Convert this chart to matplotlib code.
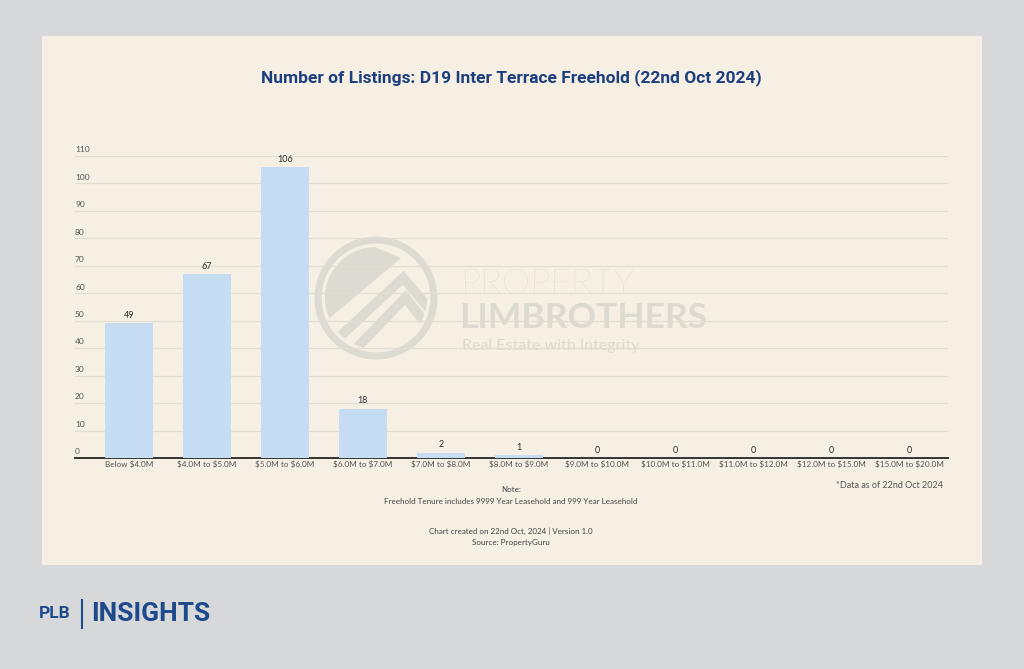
import matplotlib
matplotlib.use("Agg")
import matplotlib.pyplot as plt
from matplotlib.patches import Rectangle, Circle, Polygon
import numpy as np

plt.rcParams["text.parse_math"] = False

categories = ["Below $4.0M", "$4.0M to $5.0M", "$5.0M to $6.0M", "$6.0M to $7.0M",
              "$7.0M to $8.0M", "$8.0M to $9.0M", "$9.0M to $10.0M", "$10.0M to $11.0M",
              "$11.0M to $12.0M", "$12.0M to $15.0M", "$15.0M to $20.0M"]
listings = [49, 67, 106, 18, 2, 1, 0, 0, 0, 0, 0]
y_ticks = [0, 10, 20, 30, 40, 50, 60, 70, 80, 90, 100, 110]

title = "Number of Listings: D19 Inter Terrace Freehold (22nd Oct 2024)"

W, H = 1024, 669
fig = plt.figure(figsize=(W / 100, H / 100), dpi=100)
fig.patch.set_facecolor("#d6d8da")

def fx(px):
    return px / W

def fy(py):
    return 1 - py / H

# card
fig.add_artist(Rectangle((fx(42), fy(565)), fx(982) - fx(42), fy(36) - fy(565),
                         transform=fig.transFigure, facecolor="#f5efe4", edgecolor="none", zorder=0))

ax = fig.add_axes([fx(75), fy(458), fx(948) - fx(75), fy(156) - fy(458)])
ax.set_facecolor("none")
ax.set_zorder(2)

# watermark (overlay axes in pixel coords behind main axes)
wm = fig.add_axes([0, 0, 1, 1])
wm.set_xlim(0, W)
wm.set_ylim(H, 0)
wm.axis("off")
wm.set_zorder(1)
wmc = "#dddad2"
cx, cy, r = 376, 298, 58
wm.add_patch(Circle((cx, cy), r, fill=False, edgecolor=wmc, linewidth=5))
clip = Circle((cx, cy), r - 7, transform=wm.transData)
fill_poly = Polygon([(cx - 70, cy + 40), (cx + 25, cy - 40), (cx - 70, cy - 80)],
                    closed=True, facecolor=wmc, edgecolor="none")
wm.add_patch(fill_poly)
fill_poly.set_clip_path(clip)
for off in (22, 44):
    ln, = wm.plot([cx - 70 + off * 0.4, cx + 25 + off * 0.1, cx + 80],
                  [cy + 40 + off, cy - 40 + off * 0.9, cy + 20 + off],
                  color=wmc, linewidth=7, solid_joinstyle="miter")
    ln.set_clip_path(clip)
wm.text(461, 284, "PROPERTY", fontsize=26, color=wmc, family="Lato", fontweight="light",
        ha="left", va="center")
wm.text(459, 318, "LIMBROTHERS", fontsize=25.5, color=wmc, family="Lato", fontweight="bold",
        ha="left", va="center")
wm.text(462, 346, "Real Estate with Integrity", fontsize=11.5, color=wmc, family="Lato",
        ha="left", va="center")

x = np.arange(len(categories))
ax.bar(x, listings, width=0.62, color="#c6dcf3", zorder=3)
for xi, v in zip(x, listings):
    ax.text(xi, v + 1.2, str(v), ha="center", va="bottom", fontsize=6.5,
            color="#333333", family="Lato", zorder=4)

ax.set_xlim(-0.69, 10.5)
ax.set_ylim(0, 110)
ax.set_yticks(y_ticks)
ax.set_yticklabels([])
ax.tick_params(axis="y", length=0)
for t in y_ticks:
    ax.text(0.0, t + 1.0, str(t), transform=ax.get_yaxis_transform(), ha="left",
            va="bottom", fontsize=6, color="#555555", family="Lato")
ax.grid(axis="y", color="#e2ddd1", linewidth=0.9, zorder=0)
ax.set_xticks(x)
ax.set_xticklabels(categories, fontsize=5.9, color="#555555", family="Lato")
ax.tick_params(axis="x", length=0, pad=2)
for s in ["top", "right", "left"]:
    ax.spines[s].set_visible(False)
ax.spines["bottom"].set_color("#333333")
ax.spines["bottom"].set_linewidth(1.4)

fig.text(fx(511), fy(78), title, ha="center", va="center", fontsize=12.5,
         fontweight="bold", color="#1d3f7e", family="Roboto")

fig.text(fx(943), fy(485), "*Data as of 22nd Oct 2024", ha="right", va="center",
         fontsize=6.5, color="#555555", family="Lato")
fig.text(fx(511), fy(490), "Note:", ha="center", va="center", fontsize=5.8, color="#444444", family="Lato")
fig.text(fx(511), fy(502), "Freehold Tenure includes 9999 Year Leasehold and 999 Year Leasehold",
         ha="center", va="center", fontsize=5.8, color="#444444", family="Lato")
fig.text(fx(511), fy(531), "Chart created on 22nd Oct, 2024 | Version 1.0",
         ha="center", va="center", fontsize=5.8, color="#444444", family="Lato")
fig.text(fx(511), fy(543), "Source: PropertyGuru", ha="center", va="center",
         fontsize=5.8, color="#444444", family="Lato")

# bottom brand
fig.text(fx(39), fy(614), "PLB", ha="left", va="center", fontsize=12.5, fontweight="bold",
         color="#1e4a8c", family="Roboto")
fig.add_artist(plt.Line2D([fx(82), fx(82)], [fy(600), fy(628)], transform=fig.transFigure,
                          color="#1e4a8c", linewidth=1.5))
fig.text(fx(91), fy(614), "INSIGHTS", ha="left", va="center", fontsize=19, fontweight="bold",
         color="#1e4a8c", family="Roboto")

fig.savefig("out.png", dpi=100, facecolor=fig.get_facecolor())
